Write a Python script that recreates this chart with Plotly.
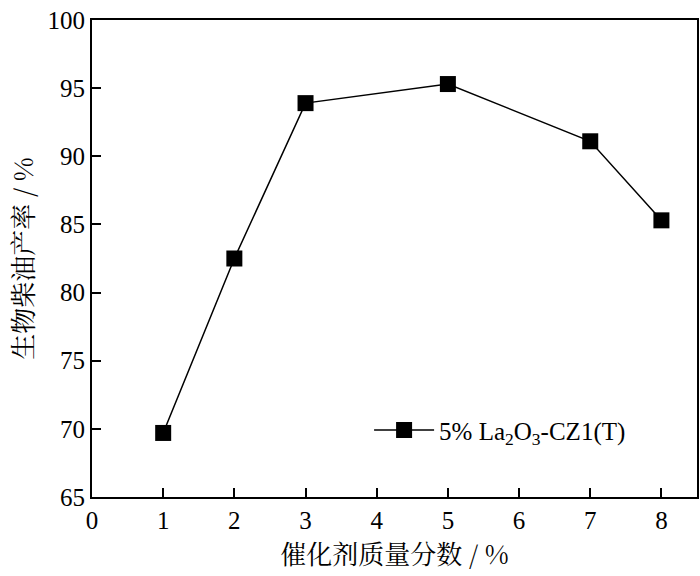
import plotly.graph_objects as go

catalyst_pct = [1, 2, 3, 5, 7, 8]
biodiesel_yield = [69.7, 82.5, 93.9, 95.3, 91.1, 85.3]
series_name = "5% La<sub>2</sub>O<sub>3</sub>-CZ1(T)"
x_ticks = [0, 1, 2, 3, 4, 5, 6, 7, 8]
y_ticks = [65, 70, 75, 80, 85, 90, 95, 100]

serif = "Liberation Serif, Times New Roman, serif"
cjk = "Noto Serif CJK SC, Noto Sans CJK SC, Liberation Serif, serif"

fig = go.Figure()
fig.add_trace(go.Scatter(
    x=catalyst_pct, y=biodiesel_yield, mode="lines+markers", name=series_name,
    line=dict(color="black", width=1.5),
    marker=dict(symbol="square", size=16, color="black"),
))

axis_common = dict(
    showline=True, linecolor="black", linewidth=1.8, mirror=True,
    ticks="inside", ticklen=9, tickwidth=1.5, tickcolor="black",
    showgrid=False, zeroline=False,
    tickfont=dict(family=serif, size=25, color="black"),
)

fig.update_xaxes(
    range=[0, 8.5], tickvals=x_ticks,
    title=dict(text="催化剂质量分数 / %", font=dict(family=cjk, size=26, color="black"), standoff=6),
    **axis_common,
)
fig.update_yaxes(
    range=[65, 100], tickvals=y_ticks,
    title=dict(text="生物柴油产率 / %", font=dict(family=cjk, size=26, color="black"), standoff=6),
    **axis_common,
)

fig.update_layout(
    width=700, height=576,
    margin=dict(l=92, r=1, t=20, b=79),
    plot_bgcolor="white", paper_bgcolor="white",
    showlegend=True,
    legend=dict(
        x=0.458, y=0.14, xanchor="left", yanchor="middle",
        itemwidth=60,
        bgcolor="rgba(0,0,0,0)",
        font=dict(family=serif, size=25, color="black"),
    ),
)

fig.write_html(
    "out.html",
    config={"displayModeBar": False},
    post_script="document.body.style.margin='0';document.body.style.overflow='hidden';",
)
